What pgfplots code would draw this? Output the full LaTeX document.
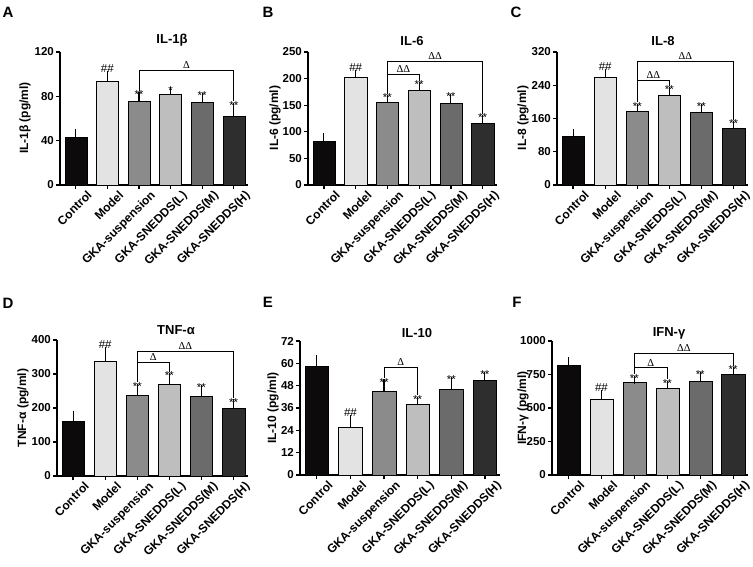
\documentclass[border=0pt]{standalone}
\usepackage{pgfplots}
\pgfplotsset{compat=1.18}
\usepackage{fontspec}
\setmainfont{Liberation Sans}
\newfontfamily\serif{Liberation Serif}
\definecolor{c0}{HTML}{0C0A0A}
\definecolor{c1}{HTML}{E3E3E3}
\definecolor{c2}{HTML}{8B8B8B}
\definecolor{c3}{HTML}{BEBEBE}
\definecolor{c4}{HTML}{6B6B6B}
\definecolor{c5}{HTML}{2E2E2E}
\pgfplotsset{
 panel/.style={scale only axis, anchor=south west, clip=false,
   axis x line*=bottom, axis y line*=left, axis line style={line width=1.5pt},
   xmin=-0.5, xmax=5.45, ymin=0,
   xtick={0,...,5}, xticklabels={Control,Model,GKA-suspension,GKA-SNEDDS(L),GKA-SNEDDS(M),GKA-SNEDDS(H)},
   tick align=outside, major tick length=4pt, tick style={line width=1.3pt, black},
   xticklabel style={rotate=45, anchor=north east, font=\fontsize{12}{12}\selectfont\bfseries, inner sep=0pt, xshift=7pt, yshift=-8pt},
   yticklabel style={font=\fontsize{11.5}{12}\selectfont\bfseries, inner sep=2pt},
   /pgf/number format/assume math mode=true,
   /pgf/number format/1000 sep={},
 },
 bb/.style={ybar, bar shift=0pt, bar width=0.7, draw=black, line width=0.4pt, fill=#1,
   error bars/.cd, y dir=plus, y explicit,
   error bar style={line width=1.1pt, black, solid},
   error mark options={line width=1.1pt, black, mark size=4pt}},
}
\tikzset{
 st/.style={anchor=south, inner sep=0pt, yshift=-3pt, font=\fontsize{11.5}{12}\selectfont},
 hh/.style={anchor=south, inner sep=0pt, yshift=2pt, font=\fontsize{11.5}{12}\selectfont},
 br/.style={line width=0.9pt, black},
 dl/.style={anchor=south, inner sep=1.5pt, font=\fontsize{10.5}{12}\selectfont\serif},
 ttl/.style={font=\fontsize{13}{14}\selectfont\bfseries},
 ylb/.style={rotate=90, font=\fontsize{12}{12}\selectfont\bfseries},
 pl/.style={font=\fontsize{15}{16}\selectfont\bfseries},
}
\begin{document}
\begin{tikzpicture}
\useasboundingbox (0,0) rectangle (753pt,-566pt);
% ---------------- A
\begin{axis}[panel, at={(60pt,-185pt)}, width=188pt, height=133pt, ymax=120, ytick={0,40,80,120}]
\addplot[bb=c0] coordinates {(0,43) +- (0,4.2)};
\addplot[bb=c1] coordinates {(1,93.9) +- (0,5.6)};
\addplot[bb=c2] coordinates {(2,75.2) +- (0,5.1)};
\addplot[bb=c3] coordinates {(3,82.1) +- (0,2.4)};
\addplot[bb=c4] coordinates {(4,74.6) +- (0,5.1)};
\addplot[bb=c5] coordinates {(5,62.3) +- (0,8.4)};
\node[hh] at (axis cs:1,99.5) {\#\#};
\node[st] (a2) at (axis cs:2,80.3) {**};
\node[st] (a3) at (axis cs:3,84.5) {*};
\node[st] (a4) at (axis cs:4,79.7) {**};
\node[st] (a5) at (axis cs:5,70.7) {**};
\draw[br] (a2.north) -- (axis cs:2,103.2) -- (axis cs:5,103.2) -- (a5.north);
\node[dl] at (axis cs:3.5,103.2) {Δ};
\end{axis}
% ---------------- B
\begin{axis}[panel, at={(308pt,-185pt)}, width=189pt, height=133pt, ymax=250, ytick={0,50,...,250}]
\addplot[bb=c0] coordinates {(0,82.5) +- (0,6.9)};
\addplot[bb=c1] coordinates {(1,201.9) +- (0,7.5)};
\addplot[bb=c2] coordinates {(2,155) +- (0,6.9)};
\addplot[bb=c3] coordinates {(3,178) +- (0,8)};
\addplot[bb=c4] coordinates {(4,153) +- (0,11.4)};
\addplot[bb=c5] coordinates {(5,116.9) +- (0,7.5)};
\node[hh] at (axis cs:1,209.4) {\#\#};
\node[st] (b2) at (axis cs:2,161.9) {**};
\node[st] (b3) at (axis cs:3,186) {**};
\node[st] (b4) at (axis cs:4,164.4) {**};
\node[st] (b5) at (axis cs:5,124.4) {**};
\draw[br] (b2.north) -- (axis cs:2,233) -- (axis cs:5,233) -- (b5.north);
\draw[br] (axis cs:2,208) -- (axis cs:3,208) -- (b3.north);
\node[dl] at (axis cs:2.5,208) {ΔΔ};
\node[dl] at (axis cs:3.5,233) {ΔΔ};
\end{axis}
% ---------------- C
\begin{axis}[panel, at={(557pt,-185pt)}, width=191pt, height=133pt, ymax=320, ytick={0,80,...,320}]
\addplot[bb=c0] coordinates {(0,116.8) +- (0,7.2)};
\addplot[bb=c1] coordinates {(1,258.4) +- (0,11.2)};
\addplot[bb=c2] coordinates {(2,177.6) +- (0,8.8)};
\addplot[bb=c3] coordinates {(3,216) +- (0,10.4)};
\addplot[bb=c4] coordinates {(4,175.2) +- (0,11.2)};
\addplot[bb=c5] coordinates {(5,137.6) +- (0,6.4)};
\node[hh] at (axis cs:1,269.6) {\#\#};
\node[st] (c2) at (axis cs:2,186.4) {**};
\node[st] (c3) at (axis cs:3,226.4) {**};
\node[st] (c4) at (axis cs:4,186.4) {**};
\node[st] (c5) at (axis cs:5,144) {**};
\draw[br] (c2.north) -- (axis cs:2,298.4) -- (axis cs:5,298.4) -- (c5.north);
\draw[br] (axis cs:2,252) -- (axis cs:3,252) -- (c3.north);
\node[dl] at (axis cs:2.5,252) {ΔΔ};
\node[dl] at (axis cs:3.5,298.4) {ΔΔ};
\end{axis}
% ---------------- D
\begin{axis}[panel, at={(57pt,-476pt)}, width=191pt, height=136pt, ymax=400, ytick={0,100,...,400}]
\addplot[bb=c0] coordinates {(0,161.8) +- (0,18.6)};
\addplot[bb=c1] coordinates {(1,336.3) +- (0,31.3)};
\addplot[bb=c2] coordinates {(2,238.2) +- (0,21.6)};
\addplot[bb=c3] coordinates {(3,270.6) +- (0,20.6)};
\addplot[bb=c4] coordinates {(4,234.3) +- (0,21.6)};
\addplot[bb=c5] coordinates {(5,198) +- (0,15.7)};
\node[hh] at (axis cs:1,367.6) {\#\#};
\node[st] (d2) at (axis cs:2,259.8) {**};
\node[st] (d3) at (axis cs:3,291.2) {**};
\node[st] (d4) at (axis cs:4,255.9) {**};
\node[st] (d5) at (axis cs:5,213.7) {**};
\draw[br] (d2.north) -- (axis cs:2,367.6) -- (axis cs:5,367.6) -- (d5.north);
\draw[br] (axis cs:2,333.3) -- (axis cs:3,333.3) -- (d3.north);
\node[dl] at (axis cs:2.5,333.3) {Δ};
\node[dl] at (axis cs:3.5,367.6) {ΔΔ};
\end{axis}
% ---------------- E
\begin{axis}[panel, at={(300pt,-475pt)}, width=200pt, height=134pt, ymax=72, ytick={0,12,...,72}]
\addplot[bb=c0] coordinates {(0,58.3) +- (0,4)};
\addplot[bb=c1] coordinates {(1,25.6) +- (0,4.6)};
\addplot[bb=c2] coordinates {(2,45.3) +- (0,4)};
\addplot[bb=c3] coordinates {(3,37.8) +- (0,2.1)};
\addplot[bb=c4] coordinates {(4,45.9) +- (0,4.7)};
\addplot[bb=c5] coordinates {(5,50.7) +- (0,2.6)};
\node[hh] at (axis cs:1,30.2) {\#\#};
\node[st] (e2) at (axis cs:2,49.3) {**};
\node[st] (e3) at (axis cs:3,39.9) {**};
\node[st] (e4) at (axis cs:4,50.6) {**};
\node[st] (e5) at (axis cs:5,53.3) {**};
\draw[br] (e2.north) -- (axis cs:2,58) -- (axis cs:3,58) -- (e3.north);
\node[dl] at (axis cs:2.5,58) {Δ};
\end{axis}
% ---------------- F
\begin{axis}[panel, at={(552pt,-475pt)}, width=196pt, height=134pt, ymax=1000, ytick={0,250,...,1000}]
\addplot[bb=c0] coordinates {(0,817.5) +- (0,32.5)};
\addplot[bb=c1] coordinates {(1,567.5) +- (0,37.5)};
\addplot[bb=c2] coordinates {(2,692.5) +- (0,20)};
\addplot[bb=c3] coordinates {(3,647.5) +- (0,27.5)};
\addplot[bb=c4] coordinates {(4,700) +- (0,42.5)};
\addplot[bb=c5] coordinates {(5,755) +- (0,20)};
\node[hh] at (axis cs:1,605) {\#\#};
\node[st] (f2) at (axis cs:2,712.5) {**};
\node[st] (f3) at (axis cs:3,675) {**};
\node[st] (f4) at (axis cs:4,742.5) {**};
\node[st] (f5) at (axis cs:5,775) {**};
\draw[br] (f2.north) -- (axis cs:2,907.5) -- (axis cs:5,907.5) -- (f5.north);
\draw[br] (axis cs:2,800) -- (axis cs:3,800) -- (f3.north);
\node[dl] at (axis cs:2.5,800) {Δ};
\node[dl] at (axis cs:3.5,907.5) {ΔΔ};
\end{axis}
% titles, labels, panel letters
\node[ttl] at (172pt,-40pt) {IL-1β};
\node[ttl] at (412pt,-41pt) {IL-6};
\node[ttl] at (663pt,-41pt) {IL-8};
\node[ttl] at (176pt,-330pt) {TNF-α};
\node[ttl] at (417pt,-333pt) {IL-10};
\node[ttl] at (669pt,-333pt) {IFN-γ};
\node[ylb] at (25pt,-118pt) {IL-1β (pg/ml)};
\node[ylb] at (275pt,-118pt) {IL-6 (pg/ml)};
\node[ylb] at (523pt,-118pt) {IL-8 (pg/ml)};
\node[ylb] at (23pt,-408pt) {TNF-α (pg/ml)};
\node[ylb] at (273pt,-408pt) {IL-10 (pg/ml)};
\node[ylb] at (523pt,-408pt) {IFN-γ (pg/ml)};
\node[pl] at (8pt,-12pt) {A};
\node[pl] at (268pt,-12pt) {B};
\node[pl] at (516pt,-12pt) {C};
\node[pl] at (8pt,-303pt) {D};
\node[pl] at (268pt,-302pt) {E};
\node[pl] at (517pt,-302pt) {F};
\end{tikzpicture}
\end{document}
